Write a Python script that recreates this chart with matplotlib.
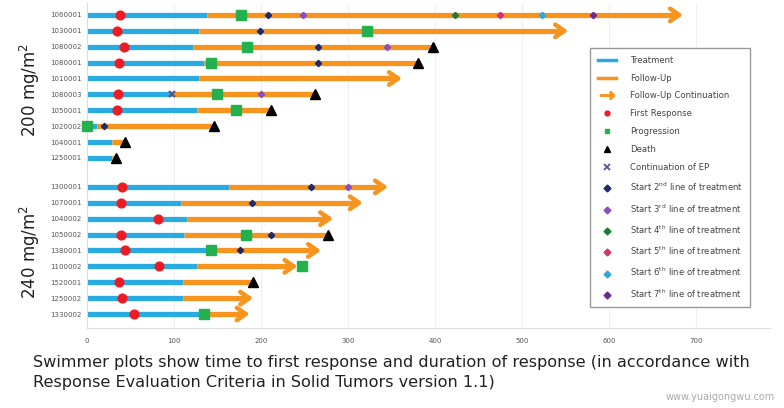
import numpy as np
import matplotlib.pyplot as plt
from matplotlib.lines import Line2D

# swimmer plot, two dose groups
nan = np.nan

patients = ['1060001', '1030001', '1080002', '1080001', '1010001', '1080003', '1050001', '1020002', '1040001', '1250001',
            '1300001', '1070001', '1040002', '1050002', '1380001', '1100002', '1520001', '1250002', '1330002']
group_200 = 10  # first 10 rows are 200 mg/m2, rest 240 mg/m2

treat_end = [138, 129, 122, 134, 129, 98, 127, 11, 29, 29,
             163, 108, 115, 111, 142, 127, 110, 110, 134]
fu_end = [685, 553, 398, 380, 362, 262, 212, 146, 44, 33,
          346, 317, 283, 277, 269, 242, 191, 191, 187]
continued = [1, 1, 0, 0, 1, 0, 0, 0, 0, 0,
             1, 1, 1, 0, 1, 1, 0, 1, 1]
died = [0, 0, 1, 1, 0, 1, 1, 1, 1, 1,
        0, 0, 0, 1, 0, 0, 1, 0, 0]
first_resp = [38, 34, 42, 37, nan, 36, 34, nan, nan, nan,
              40, 39, 82, 39, 44, 83, 37, 40, 54]
progression = [177, 322, 184, 142, nan, 149, 171, 0, nan, nan,
               nan, nan, nan, 183, 142, 247, nan, nan, 134]
ep_cont = [nan, nan, nan, nan, nan, 98, nan, nan, nan, nan,
           nan, nan, nan, nan, nan, nan, nan, nan, nan]

# start of next lines of treatment: (row, day)
line2_rows = [0, 1, 2, 3, 7, 10, 11, 13, 14]
line2_days = [208, 199, 266, 265, 20, 257, 190, 211, 176]
line3_rows = [0, 2, 5, 10]
line3_days = [248, 345, 200, 300]
line4_rows, line4_days = [0], [423]
line5_rows, line5_days = [0], [475]
line6_rows, line6_days = [0], [523]
line7_rows, line7_days = [0], [582]

blue = '#29ABE2'
orange = '#F7941D'
red = '#ED1C24'
green = '#22B14C'
line_cols = ['#1F2A6B', '#8A4FC0', '#1E7B3A', '#D6336C', '#29ABE2', '#6A2C91']

fig = plt.figure(figsize=(7.84, 4.08), dpi=100)
ax = fig.add_axes([87/784, 1-328/408, (770-87)/784, 325/408])

n = len(patients)
ypos = np.array([i if i < group_200 else i + 0.82 for i in range(n)])

lw = 3.8
for i in range(n):
    y = ypos[i]
    ax.plot([0, treat_end[i]], [y, y], color=blue, lw=lw, solid_capstyle='butt', zorder=2)
    if continued[i]:
        ax.plot([treat_end[i], fu_end[i] - 6], [y, y], color=orange, lw=lw, solid_capstyle='butt', zorder=2)
        ax.annotate('', xy=(fu_end[i], y), xytext=(fu_end[i] - 12, y),
                    arrowprops=dict(arrowstyle='->,head_length=0.65,head_width=0.45', lw=3.2,
                                    color=orange, shrinkA=0, shrinkB=0), zorder=2)
    else:
        ax.plot([treat_end[i], fu_end[i]], [y, y], color=orange, lw=lw, solid_capstyle='butt', zorder=2)

died = np.array(died, bool)
fu_end = np.array(fu_end)
ax.plot(fu_end[died], ypos[died], ls='none', marker='^', color='black', ms=7, zorder=4, clip_on=False)
ax.plot(first_resp, ypos, ls='none', marker='o', color=red, ms=6.3, zorder=4, clip_on=False)
ax.plot(progression, ypos, ls='none', marker='s', color=green, ms=7, zorder=4, clip_on=False)
ax.plot(ep_cont, ypos, ls='none', marker='x', color='#4A5A9A', ms=5, mew=1.5, zorder=4)

lines = [(line2_rows, line2_days), (line3_rows, line3_days), (line4_rows, line4_days),
         (line5_rows, line5_days), (line6_rows, line6_days), (line7_rows, line7_days)]
for (rows, days), c in zip(lines, line_cols):
    ax.plot(days, ypos[rows], ls='none', marker='D', color=c, ms=3.2, zorder=5)

ax.set_xlim(0, 785)
ax.set_ylim(19.7, -0.75)
ax.set_xticks(range(0, 800, 100))
ax.set_yticks(ypos)
ax.set_yticklabels(patients)
ax.tick_params(axis='both', length=0, labelsize=5, labelcolor='#555555')
ax.tick_params(axis='y', pad=4)
ax.tick_params(axis='x', pad=7)
ax.grid(axis='x', color='#F0F0F0', lw=0.8)
ax.set_axisbelow(True)
for s in ['top', 'right']:
    ax.spines[s].set_visible(False)
ax.spines['left'].set_color('#DDDDDD')
ax.spines['bottom'].set_color('#DDDDDD')

fig.text(30/784, 1-90/408, '200 mg/m$^2$', rotation=90, ha='center', va='center', fontsize=12, color='#222222')
fig.text(30/784, 1-252/408, '240 mg/m$^2$', rotation=90, ha='center', va='center', fontsize=12, color='#222222')

handles = [
    Line2D([], [], color=blue, lw=2.5),
    Line2D([], [], color=orange, lw=2.5),
    Line2D([], [], ls='none', marker=r'$\rightarrow$', color=orange, ms=10),
    Line2D([], [], ls='none', marker='o', color=red, ms=3.5),
    Line2D([], [], ls='none', marker='s', color=green, ms=3.5),
    Line2D([], [], ls='none', marker='^', color='black', ms=4),
    Line2D([], [], ls='none', marker='x', color='#4A5A9A', ms=4, mew=1.3),
] + [Line2D([], [], ls='none', marker='D', color=c, ms=3.5) for c in line_cols]
labels = ['Treatment', 'Follow-Up', 'Follow-Up Continuation', 'First Response', 'Progression', 'Death',
          'Continuation of EP',
          'Start 2$^{\\mathrm{nd}}$ line of treatment', 'Start 3$^{\\mathrm{rd}}$ line of treatment',
          'Start 4$^{\\mathrm{th}}$ line of treatment', 'Start 5$^{\\mathrm{th}}$ line of treatment',
          'Start 6$^{\\mathrm{th}}$ line of treatment', 'Start 7$^{\\mathrm{th}}$ line of treatment']
leg = ax.legend(handles, labels, loc='upper left', bbox_to_anchor=(590/784, 1-48/408),
                bbox_transform=fig.transFigure, fontsize=6.1, labelspacing=1.05, handlelength=2.2,
                fancybox=False, edgecolor='#999999', framealpha=1, borderpad=0.9, handletextpad=1.6,
                borderaxespad=0)
for t in leg.get_texts():
    t.set_color('#444444')
leg.get_frame().set_linewidth(1.0)

fig.text(33/784, 1-362/408, 'Swimmer plots show time to first response and duration of response (in accordance with',
         fontsize=11.6, va='center', color='#222222')
fig.text(33/784, 1-382/408, 'Response Evaluation Criteria in Solid Tumors version 1.1)',
         fontsize=11.6, va='center', color='#222222')
fig.text(775/784, 1-397/408, 'www.yuaigongwu.com', fontsize=7, ha='right', va='center', color='#AAAAAA')

fig.savefig('out.png', dpi=100)
